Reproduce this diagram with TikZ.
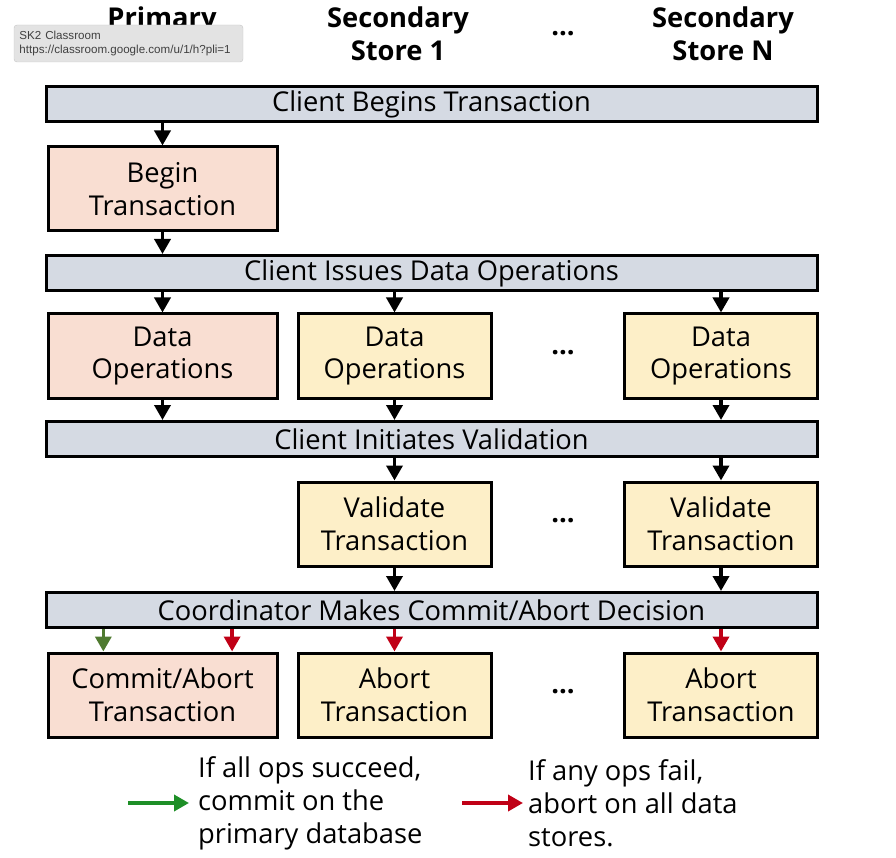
\documentclass[tikz,border=0pt]{standalone}
\usepackage{fontspec}
\setmainfont{Open Sans}
\newfontfamily\tipfont{Liberation Sans}
\usepackage{tikz}
\usetikzlibrary{arrows.meta,positioning,calc}

\definecolor{barGray}{HTML}{D5DAE3}
\definecolor{primFill}{HTML}{F9DED2}
\definecolor{secFill}{HTML}{FDEFC8}
\definecolor{okGreen}{HTML}{1E8F27}
\definecolor{okOlive}{HTML}{4F7A30}
\definecolor{failRed}{HTML}{C00016}

\begin{document}
\begin{tikzpicture}[
    x=1pt, y=-1pt,
    txt/.style={font=\fontsize{27.3}{32.5}\selectfont},
    head/.style={font=\fontsize{27.3}{32.5}\selectfont\bfseries, align=center},
    bar/.style={draw, line width=3pt, fill=barGray, minimum width=771pt, minimum height=35pt, inner sep=0pt, txt},
    prim/.style={draw, line width=3pt, fill=primFill, minimum width=229pt, minimum height=84pt, align=center, inner sep=0pt, txt},
    sec/.style={draw, line width=3pt, fill=secFill, minimum width=193pt, minimum height=84pt, align=center, inner sep=0pt, txt},
    dots/.style={font=\fontsize{27.3}{32.5}\selectfont\bfseries},
    arr/.style={-{Triangle[length=15pt,width=16pt]}, line width=3.6pt},
    okarr/.style={arr, okOlive},
    failarr/.style={arr, failRed},
    legtext/.style={font=\fontsize{27.3}{33}\selectfont, align=left, anchor=west, inner sep=0pt},
    tip/.style={draw=gray!45, fill=gray!22, rounded corners=3pt, minimum width=229pt, minimum height=37pt, text width=218pt, align=left, inner sep=5pt, font=\tipfont\fontsize{11.6}{14}\selectfont, text=black!75}
]
\useasboundingbox (0,0) rectangle (896,858);

% column headers
\node[head] (hPrim) at (162,34) {Primary\\Store};
\node[head] (hSec1) at (398,34) {Secondary\\Store 1};
\node[dots] (hDots) at (563,34) {...};
\node[head] (hSecN) at (723,34) {Secondary\\Store N};

% phase bars
\node[bar] (cbt) at (431.5,104.5) {Client Begins Transaction};
\node[bar] (cido) at (431.5,273) {Client Issues Data Operations};
\node[bar] (civ) at (431.5,439) {Client Initiates Validation};
\node[bar] (cmad) at (431.5,610) {Coordinator Makes Commit/Abort Decision};

% primary store
\node[prim] (beginTx) at (162.5,189) {Begin\\Transaction};
\node[prim] (dataPrim) at (162.5,356) {Data\\Operations};
\node[prim] (commitPrim) at (162.5,695) {Commit/Abort\\Transaction};

% secondary store 1
\node[sec] (dataSec1) at (394.5,356) {Data\\Operations};
\node[sec] (valSec1) at (394.5,524) {Validate\\Transaction};
\node[sec] (abortSec1) at (394.5,695) {Abort\\Transaction};

% secondary store N
\node[sec] (dataSecN) at (721,356) {Data\\Operations};
\node[sec] (valSecN) at (721,524) {Validate\\Transaction};
\node[sec] (abortSecN) at (721,695) {Abort\\Transaction};

\node[dots] (dotsData) at (563,353) {...};
\node[dots] (dotsVal) at (563,521) {...};
\node[dots] (dotsAbort) at (563,692) {...};

% flow
\draw[arr] (beginTx.north |- cbt.south) -- (beginTx.north);
\draw[arr] (beginTx.south) -- (beginTx.south |- cido.north);
\draw[arr] (dataPrim.north |- cido.south) -- (dataPrim.north);
\draw[arr] (dataSec1.north |- cido.south) -- (dataSec1.north);
\draw[arr] (dataSecN.north |- cido.south) -- (dataSecN.north);
\draw[arr] (dataPrim.south) -- (dataPrim.south |- civ.north);
\draw[arr] (dataSec1.south) -- (dataSec1.south |- civ.north);
\draw[arr] (dataSecN.south) -- (dataSecN.south |- civ.north);
\draw[arr] (valSec1.north |- civ.south) -- (valSec1.north);
\draw[arr] (valSecN.north |- civ.south) -- (valSecN.north);
\draw[arr] (valSec1.south) -- (valSec1.south |- cmad.north);
\draw[arr] (valSecN.south) -- (valSecN.south |- cmad.north);

% decision
\coordinate (okTip) at ($(commitPrim.north west)!0.245!(commitPrim.north east)$);
\coordinate (failTip) at ($(commitPrim.north west)!0.8!(commitPrim.north east)$);
\draw[okarr] (okTip |- cmad.south) -- (okTip);
\draw[failarr] (failTip |- cmad.south) -- (failTip);
\draw[failarr] (abortSec1.north |- cmad.south) -- (abortSec1.north);
\draw[failarr] (abortSecN.north |- cmad.south) -- (abortSecN.north);

% legend
\node[legtext] (okTxt) at (198,803) {If all ops succeed,\\commit on the\\primary database};
\node[legtext] (failTxt) at (528,803) {If any ops fail,\\abort on all data\\stores.};
\coordinate (okStart) at (128,803);
\coordinate (failStart) at (462,803);
\draw[arr, okGreen] (okStart) -- ([xshift=-9pt]okTxt.west);
\draw[arr, failRed] (failStart) -- ([xshift=-5pt]failTxt.west);

% browser tooltip over the header
\node[tip] (tooltip) at (128.5,43.5) {SK2 Classroom\\https://classroom.google.com/u/1/h?pli=1};
\end{tikzpicture}
\end{document}
